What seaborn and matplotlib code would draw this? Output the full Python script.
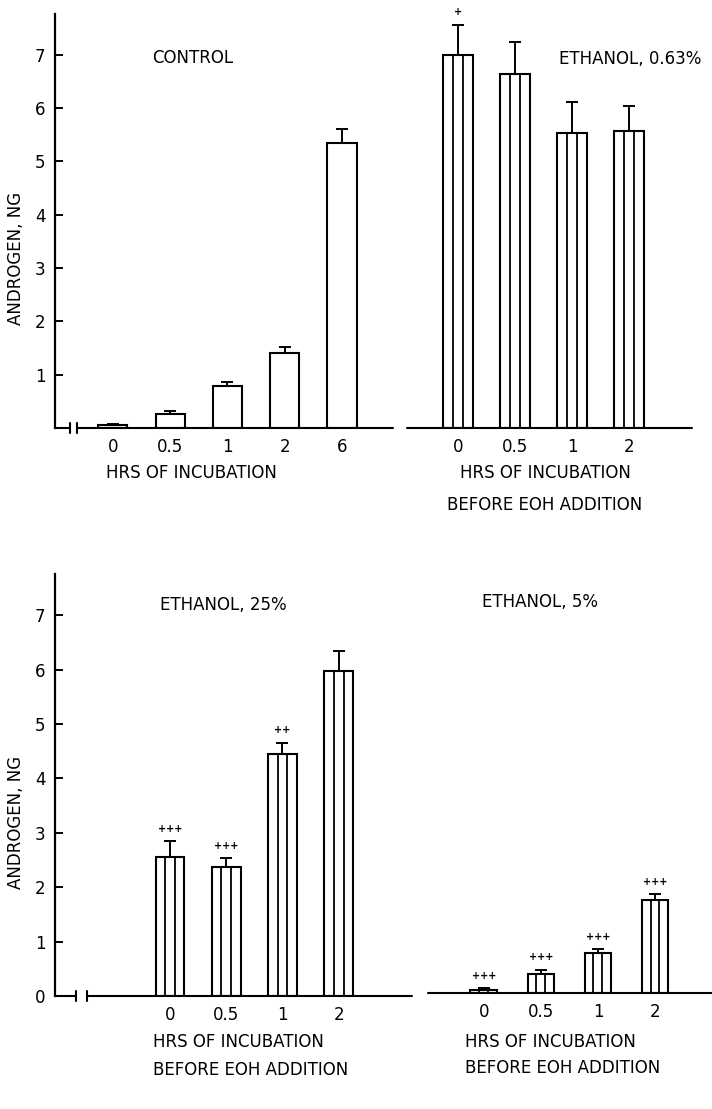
import matplotlib
matplotlib.use("Agg")
import matplotlib.pyplot as plt
import seaborn as sns
import numpy as np

# values (ng androgen, mean and upper error)
control_hours = ["0", "0.5", "1", "2", "6"]
control_mean = [0.05, 0.26, 0.79, 1.40, 5.34]
control_err = [0.02, 0.06, 0.07, 0.12, 0.26]

eoh_hours = ["0", "0.5", "1", "2"]

eth063_mean = [7.00, 6.63, 5.53, 5.56]
eth063_err = [0.56, 0.60, 0.58, 0.48]
eth063_sig = ["+", "", "", ""]

eth25_mean = [2.56, 2.38, 4.45, 5.97]
eth25_err = [0.29, 0.15, 0.21, 0.37]
eth25_sig = ["+++", "+++", "++", ""]

eth5_mean = [0.05, 0.34, 0.73, 1.71]
eth5_err = [0.04, 0.09, 0.07, 0.10]
eth5_sig = ["+++", "+++", "+++", "+++"]

W, H = 712, 1109

sns.set_style("ticks")
plt.rcParams["font.family"] = ["DejaVu Sans"]
plt.rcParams["font.size"] = 12
for key in ["text.color", "axes.labelcolor", "xtick.color", "ytick.color", "axes.edgecolor"]:
    plt.rcParams[key] = "black"

fig = plt.figure(figsize=(W / 100, H / 100), dpi=100)


def px_axes(left, right, top, bottom):
    # pixel box -> figure fraction axes
    return fig.add_axes([left / W, 1 - bottom / H, (right - left) / W, (bottom - top) / H])


def fig_text(x, y, s, ha="center"):
    fig.text(x / W, 1 - y / H, s, ha=ha, va="center", fontsize=12)


def draw_panel(ax, hours, mean, err, sig, width, xlim, striped, yaxis, yticks=None):
    sns.barplot(x=hours, y=mean, order=hours, color="white", saturation=1,
                edgecolor="black", linewidth=1.5, width=width, errorbar=None, ax=ax)
    centers = []
    for p in ax.patches:
        x0, w, h = p.get_x(), p.get_width(), p.get_height()
        centers.append(x0 + w / 2)
        if striped:
            ax.vlines([x0 + w / 3, x0 + 2 * w / 3], 0, h, color="black", lw=1.3)
    ax.errorbar(centers, mean, yerr=[np.zeros(len(mean)), err], fmt="none",
                ecolor="black", elinewidth=1.4, capsize=4.5, capthick=1.4)
    if sig is not None:
        for c, m, e, s in zip(centers, mean, err, sig):
            if s:
                ax.annotate(s, (c, m + e), xytext=(0, 9), textcoords="offset points",
                            ha="center", va="center", fontsize=7, fontweight="bold")
    ax.set_xlim(*xlim)
    ax.set_ylim(0, 7.76)
    ax.set_xlabel("")
    ax.set_ylabel("")
    ax.set_facecolor("none")
    for s in ["top", "right", "bottom"]:
        ax.spines[s].set_visible(False)
    ax.tick_params(axis="x", length=0, pad=7, labelsize=12)
    if yaxis:
        ax.spines["left"].set_linewidth(1.6)
        ax.set_yticks(yticks)
        ax.tick_params(axis="y", direction="in", length=6, width=1.4, pad=7, labelsize=12)
    else:
        ax.spines["left"].set_visible(False)
        ax.set_yticks([])


def baseline(ax, breaks=None):
    kw = dict(color="black", lw=1.5, transform=ax.transAxes, clip_on=False)
    if breaks is None:
        ax.plot([0, 1], [0, 0], **kw)
        return
    b0, b1 = breaks
    ax.plot([0, b0], [0, 0], **kw)
    ax.plot([b1, 1], [0, 0], **kw)
    for b in breaks:
        ax.plot([b, b], [-0.011, 0.011], **kw)


# top left: control
ax1 = px_axes(55, 393, 14, 428)
draw_panel(ax1, control_hours, control_mean, control_err, None, 0.51,
           (-1.01, 4.89), False, True, range(1, 8))
baseline(ax1, (0.044, 0.065))
ax1.set_ylabel("ANDROGEN, NG", fontsize=12)
ax1.yaxis.set_label_coords(-0.088, 0.41)

# top right: ethanol 0.63%
ax2 = px_axes(407, 692, 14, 428)
draw_panel(ax2, eoh_hours, eth063_mean, eth063_err, eth063_sig, 0.53,
           (-0.89, 4.1), True, False)
baseline(ax2)

# bottom left: ethanol 25%
ax3 = px_axes(55, 412, 574, 996)
draw_panel(ax3, eoh_hours, eth25_mean, eth25_err, eth25_sig, 0.51,
           (-2.04, 4.3), True, True, range(0, 8))
baseline(ax3, (0.059, 0.09))
ax3.set_ylabel("ANDROGEN, NG", fontsize=12)
ax3.yaxis.set_label_coords(-0.083, 0.412)

# bottom right: ethanol 5%
ax4 = px_axes(428, 712, 570, 993)
draw_panel(ax4, eoh_hours, eth5_mean, eth5_err, eth5_sig, 0.47,
           (-0.98, 4.0), True, False)
baseline(ax4)

# panel titles
fig_text(193, 58, "CONTROL")
fig_text(630, 59, "ETHANOL, 0.63%")
fig_text(223, 605, "ETHANOL, 25%")
fig_text(540, 602, "ETHANOL, 5%")

# axis captions
fig_text(191, 473, "HRS OF INCUBATION")
fig_text(545, 473, "HRS OF INCUBATION")
fig_text(545, 505, "BEFORE EOH ADDITION")
fig_text(153, 1042, "HRS OF INCUBATION", ha="left")
fig_text(153, 1070, "BEFORE EOH ADDITION", ha="left")
fig_text(465, 1042, "HRS OF INCUBATION", ha="left")
fig_text(465, 1068, "BEFORE EOH ADDITION", ha="left")

fig.savefig("out.png", dpi=100)
